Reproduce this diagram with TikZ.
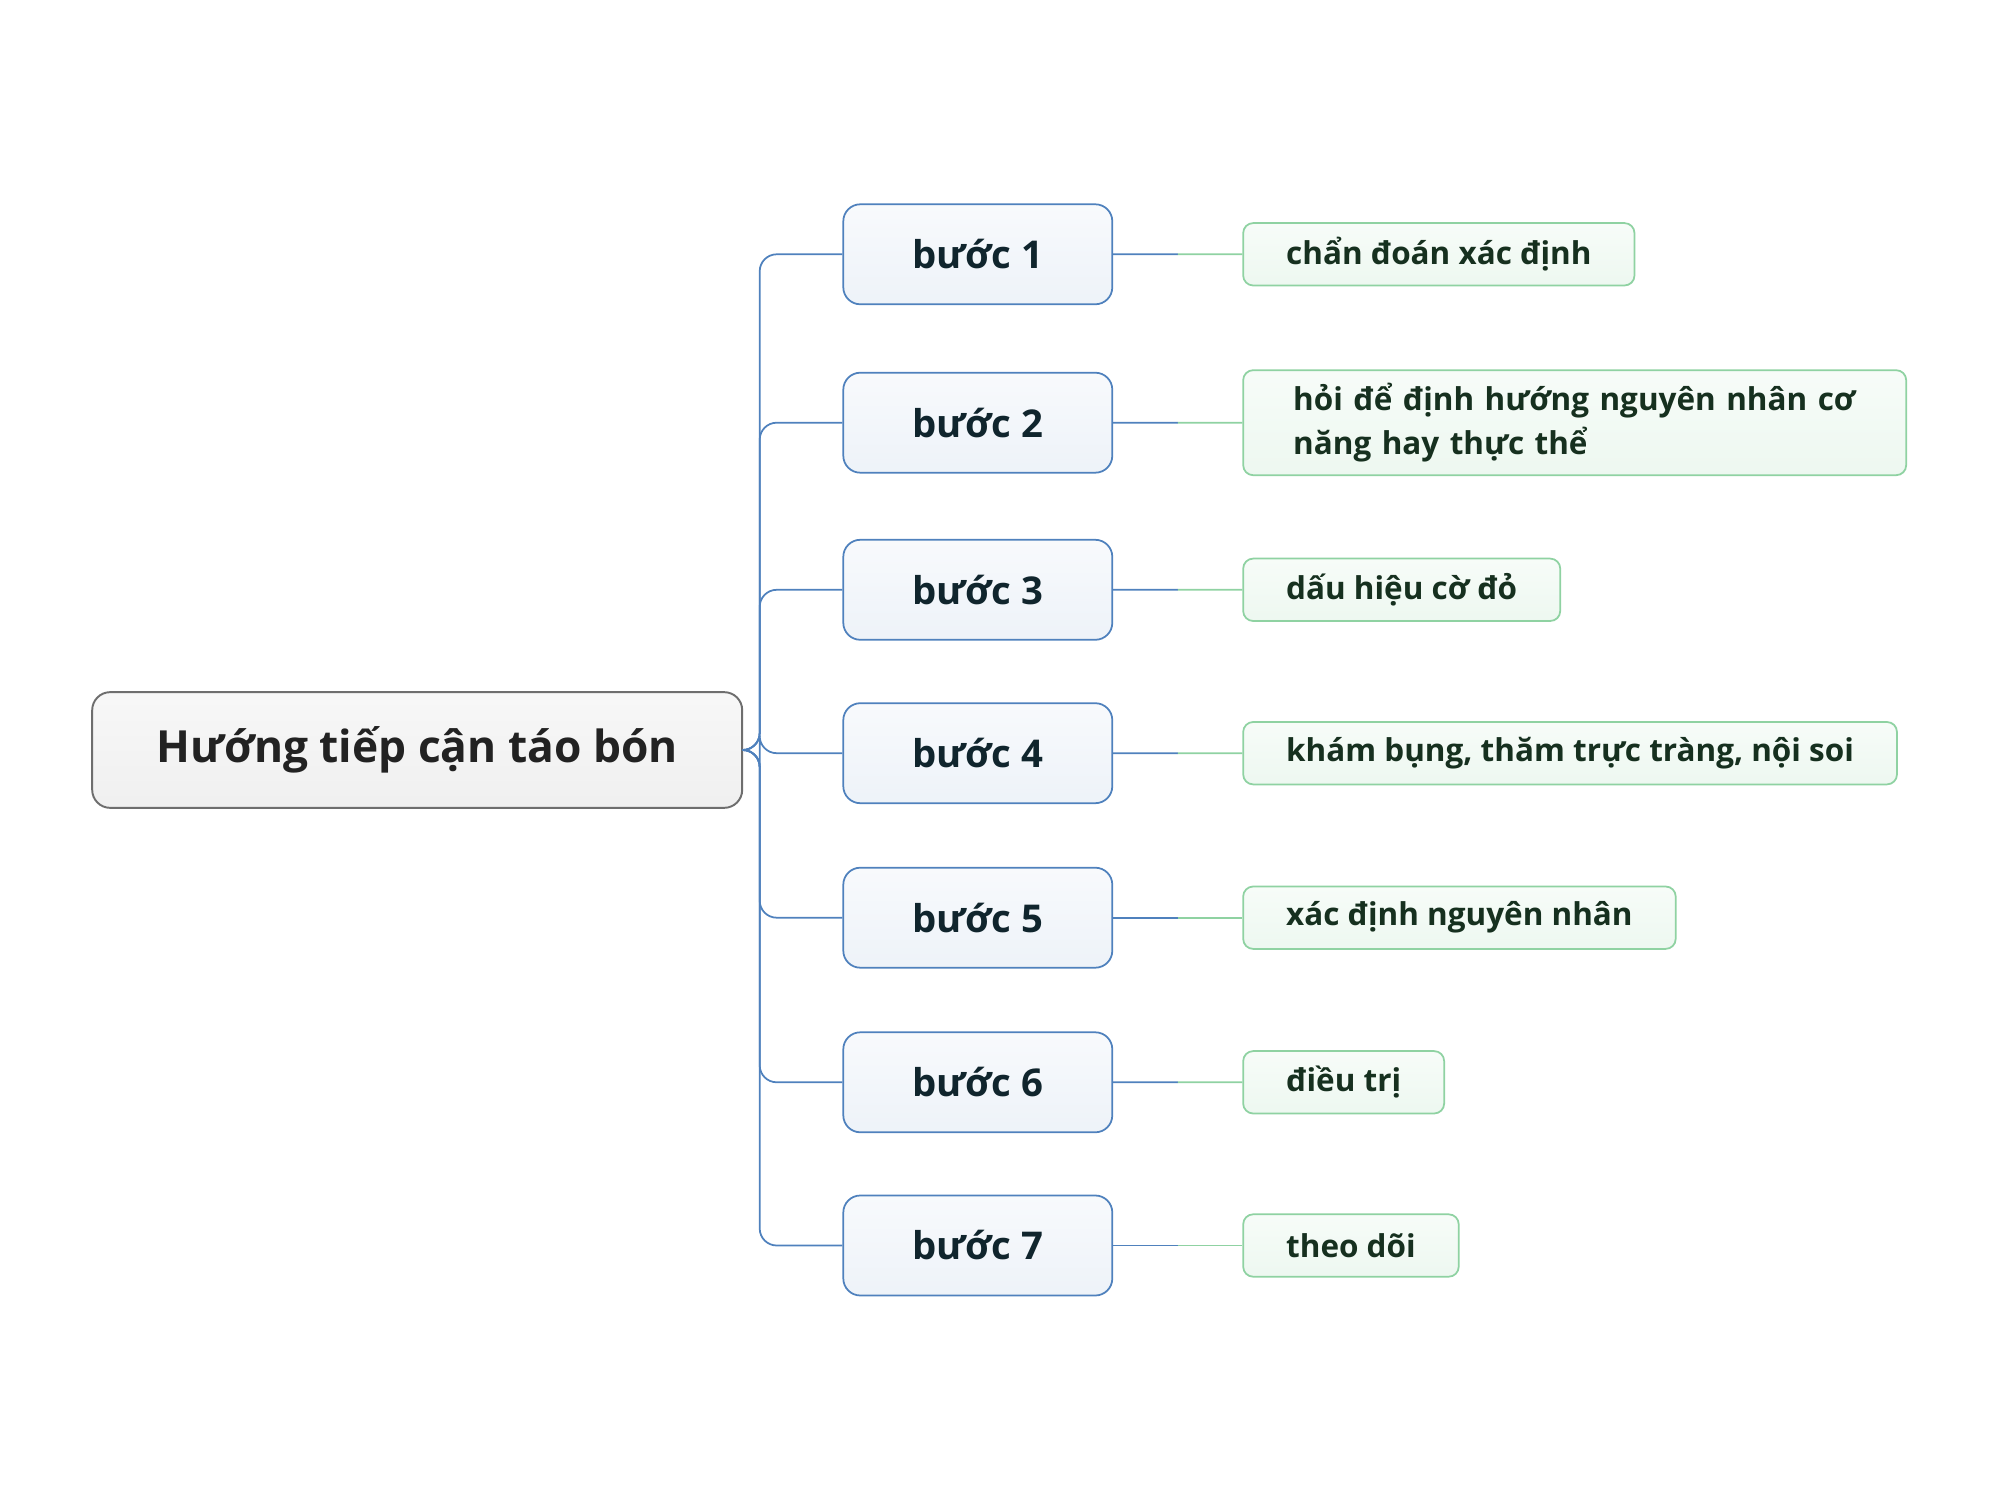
\documentclass[tikz,border=0pt]{standalone}
\usepackage{fontspec}
\setmainfont{Open Sans}
\usetikzlibrary{positioning,calc}
\definecolor{rootline}{HTML}{6E6E6E}
\definecolor{roottext}{HTML}{222222}
\definecolor{stepline}{HTML}{4F81BD}
\definecolor{steptext}{HTML}{10252D}
\definecolor{leafline}{HTML}{8FD2A2}
\definecolor{leaftext}{HTML}{16301F}

\begin{document}
\begin{tikzpicture}[
	rootbox/.style={draw=rootline,line width=0.55pt,rounded corners=0.18cm,top color=white!97!black,bottom color=white!94!black,minimum width=6.5cm,minimum height=1.157cm,text=roottext,font=\fontsize{12.6}{15}\selectfont\bfseries},
	stepbox/.style={draw=stepline,line width=0.5pt,rounded corners=0.17cm,top color=stepline!4,bottom color=stepline!10,minimum width=2.69cm,minimum height=1cm,text=steptext,font=\fontsize{10.9}{13}\selectfont\bfseries},
	leafbox/.style={anchor=west,draw=leafline,line width=0.5pt,rounded corners=0.1cm,top color=leafline!7,bottom color=leafline!16,minimum height=0.624cm,inner xsep=0.43cm,inner ysep=0.1cm,align=left,text=leaftext,font=\fontsize{8.95}{12.35}\selectfont\bfseries},
	trunk/.style={draw=stepline,line width=0.5pt,rounded corners=0.17cm},
	blueline/.style={draw=stepline,line width=0.5pt},
	greenline/.style={draw=leafline,line width=0.5pt},
	]
	\useasboundingbox (0,0) rectangle (20,15);
	\node (root) at (4.172,7.5)[rootbox] {Hướng tiếp cận táo bón};
	\coordinate (fork) at (7.597,7.5);
	\node (b1) at (9.778,12.457)[stepbox] {bước 1};
	\node (b2) at (9.778,10.773)[stepbox] {bước 2};
	\node (b3) at (9.778,9.102)[stepbox] {bước 3};
	\node (b4) at (9.778,7.468)[stepbox] {bước 4};
	\node (b5) at (9.778,5.823)[stepbox] {bước 5};
	\node (b6) at (9.778,4.177)[stepbox] {bước 6};
	\node (b7) at (9.778,2.545)[stepbox] {bước 7};
	\node (l1) at (12.423,12.457)[leafbox] {chẩn đoán xác định};
	\node (l2) at (12.423,10.773)[leafbox,text width=5.63cm,inner xsep=0.5cm,minimum height=1.05cm] {hỏi để định hướng nguyên nhân cơ\\năng hay thực thể};
	\node (l3) at (12.423,9.102)[leafbox] {dấu hiệu cờ đỏ};
	\node (l4) at (12.423,7.468)[leafbox] {khám bụng, thăm trực tràng, nội soi};
	\node (l5) at (12.423,5.823)[leafbox] {xác định nguyên nhân};
	\node (l6) at (12.423,4.177)[leafbox] {điều trị};
	\node (l7) at (12.423,2.545)[leafbox] {theo dõi};
	\draw[trunk] (root.east)--(fork)|-(b1.west);
	\draw[trunk] (root.east)--(fork)|-(b2.west);
	\draw[trunk] (root.east)--(fork)|-(b3.west);
	\draw[trunk] (root.east)--(fork)|-(b4.west);
	\draw[trunk] (root.east)--(fork)|-(b5.west);
	\draw[trunk] (root.east)--(fork)|-(b6.west);
	\draw[trunk] (root.east)--(fork)|-(b7.west);
	\draw[blueline] (b1.east)--($(b1.east)!0.5!(l1.west)$);
	\draw[greenline] ($(b1.east)!0.5!(l1.west)$)--(l1.west);
	\draw[blueline] (b2.east)--($(b2.east)!0.5!(l2.west)$);
	\draw[greenline] ($(b2.east)!0.5!(l2.west)$)--(l2.west);
	\draw[blueline] (b3.east)--($(b3.east)!0.5!(l3.west)$);
	\draw[greenline] ($(b3.east)!0.5!(l3.west)$)--(l3.west);
	\draw[blueline] (b4.east)--($(b4.east)!0.5!(l4.west)$);
	\draw[greenline] ($(b4.east)!0.5!(l4.west)$)--(l4.west);
	\draw[blueline] (b5.east)--($(b5.east)!0.5!(l5.west)$);
	\draw[greenline] ($(b5.east)!0.5!(l5.west)$)--(l5.west);
	\draw[blueline] (b6.east)--($(b6.east)!0.5!(l6.west)$);
	\draw[greenline] ($(b6.east)!0.5!(l6.west)$)--(l6.west);
	\draw[blueline] (b7.east)--($(b7.east)!0.5!(l7.west)$);
	\draw[greenline] ($(b7.east)!0.5!(l7.west)$)--(l7.west);
\end{tikzpicture}
\end{document}
